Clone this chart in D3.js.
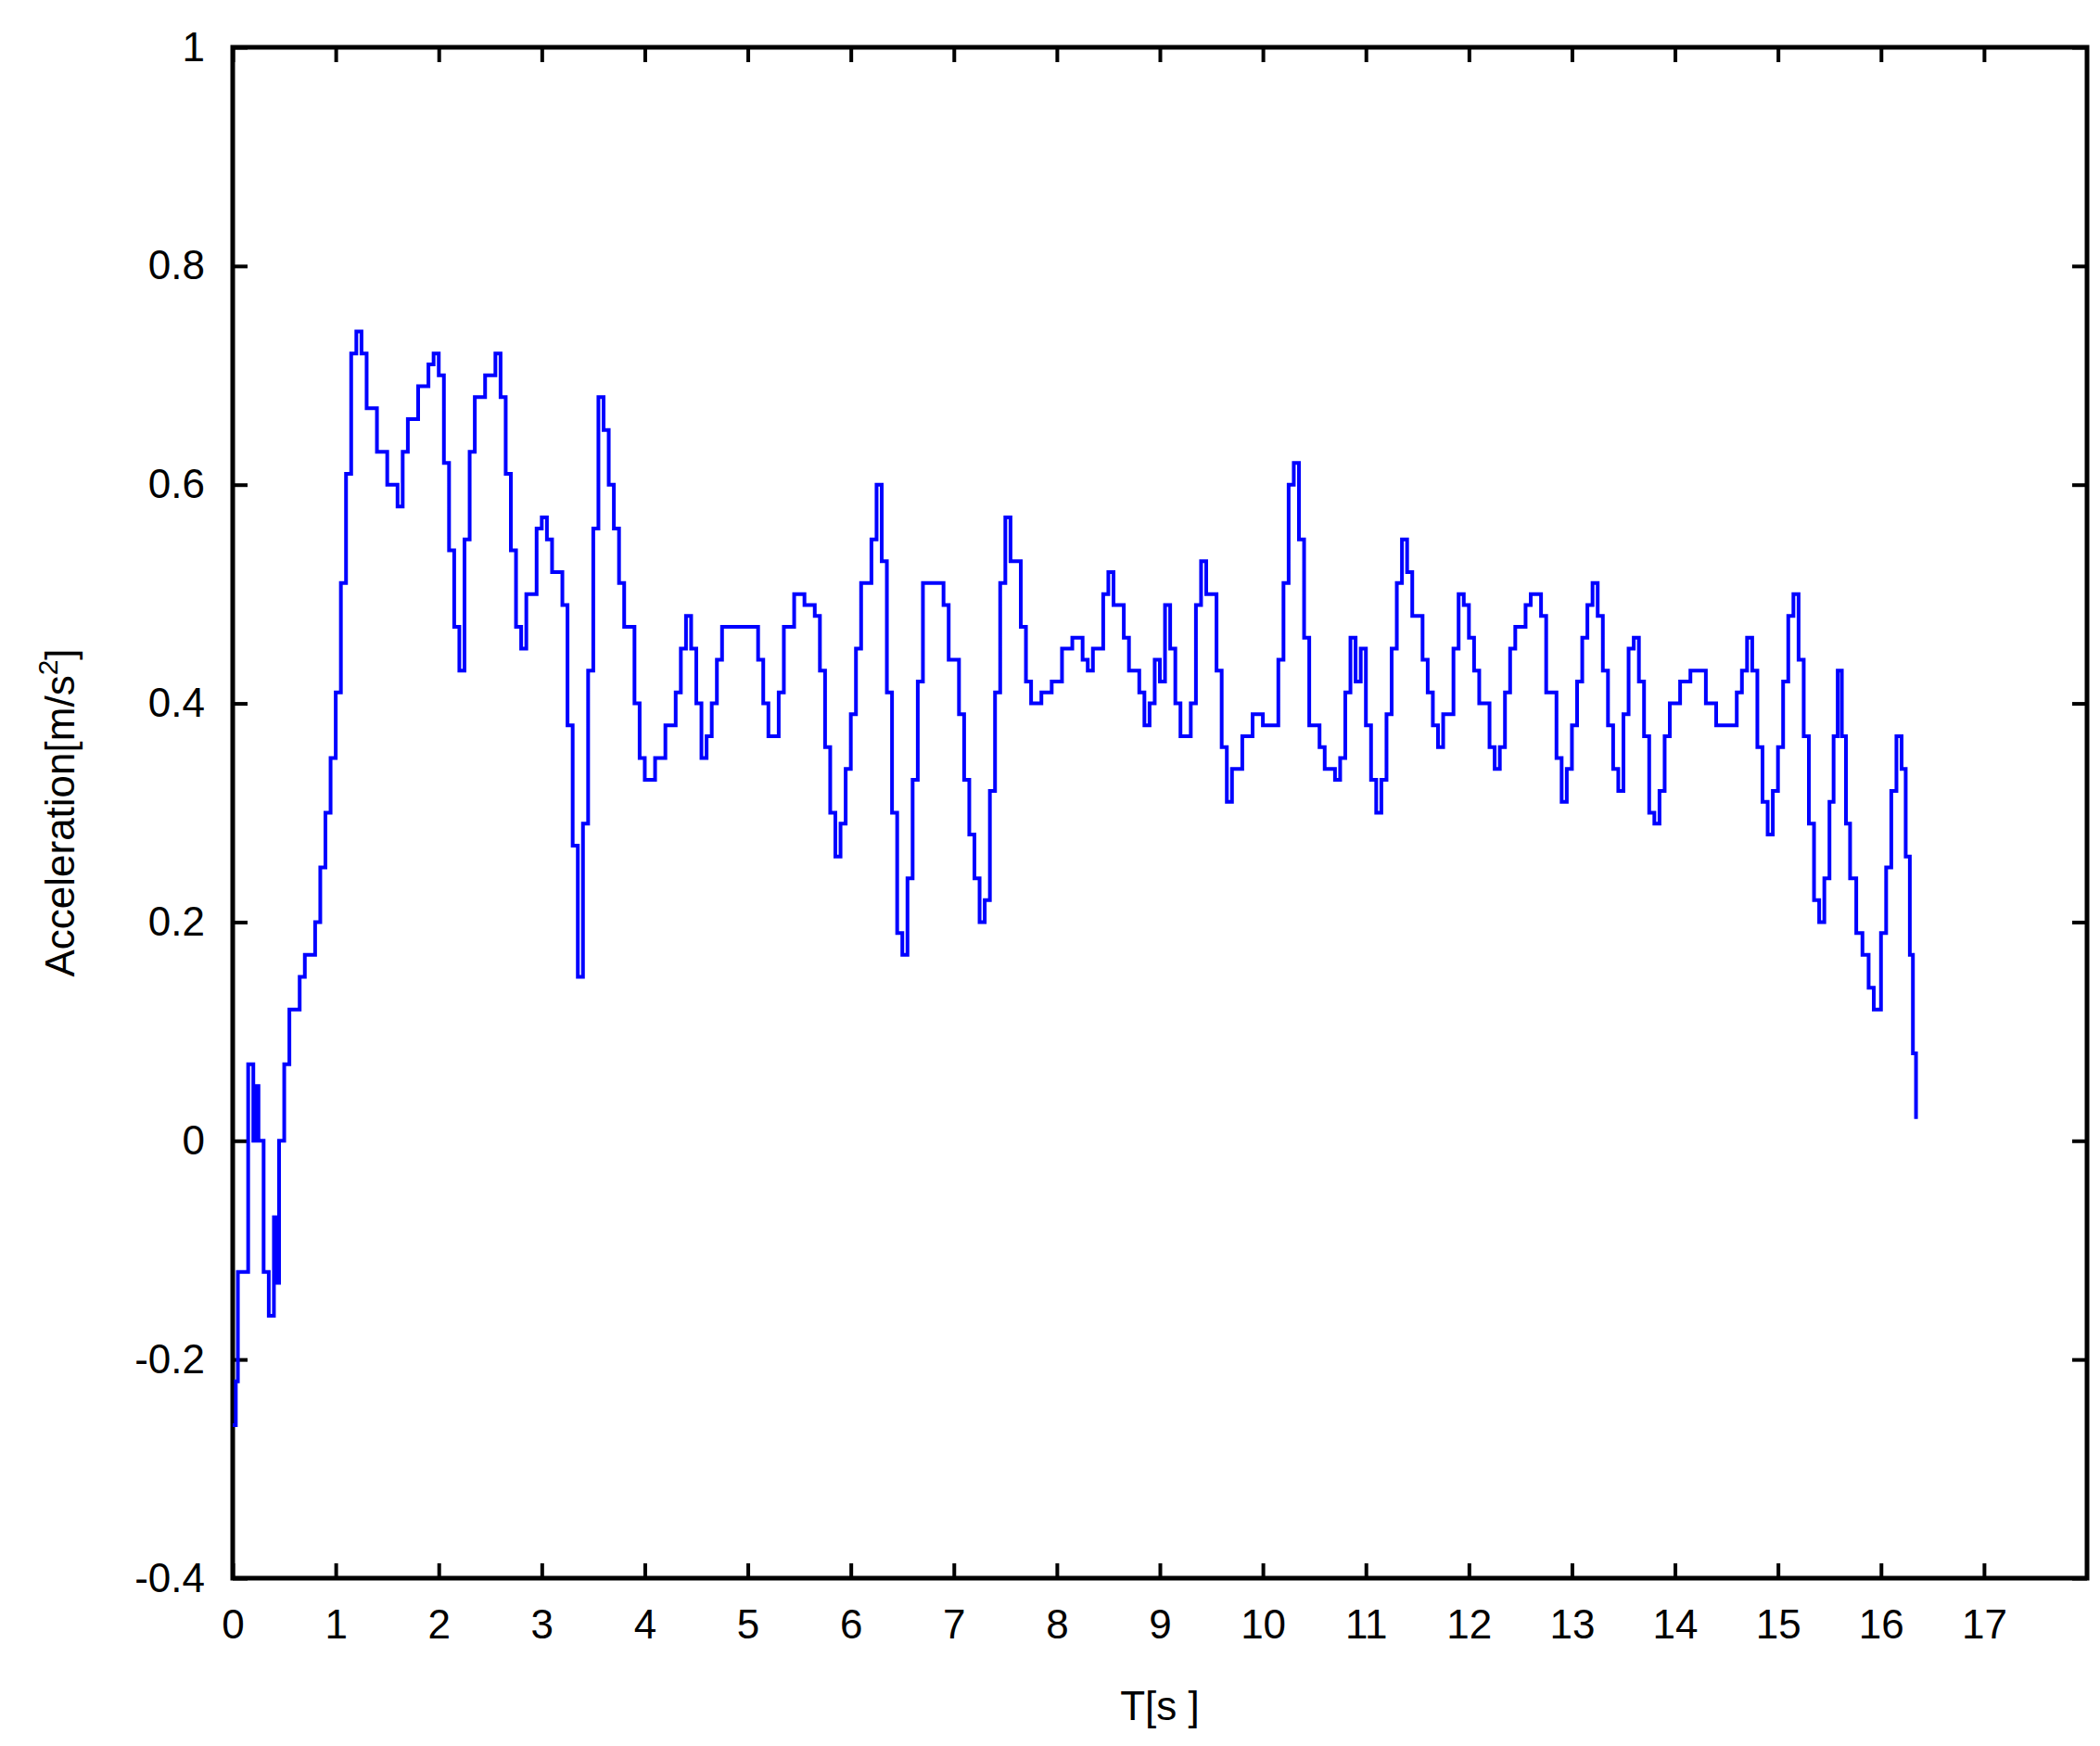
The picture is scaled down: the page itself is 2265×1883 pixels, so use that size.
<!DOCTYPE html>
<html><head><meta charset="utf-8">
<script src="https://cdn.jsdelivr.net/npm/d3@7"></script>
<style>body{margin:0;background:#fff}text{font-family:"Liberation Sans",Arial,sans-serif}</style>
</head><body>
<script>
var w = 2265, h = 1883;
var margin = {left: 251, right: 14, top: 51, bottom: 181};
var xTicks = d3.range(0, 18);
var yTicks = [-0.4, -0.2, 0, 0.2, 0.4, 0.6, 0.8, 1];
var times = [0,0.03,0.05,0.1,0.15,0.2,0.22,0.25,0.3,0.35,0.4,0.42,0.45,0.5,0.55,0.65,0.7,0.8,0.85,0.9,0.95,1.0,1.05,1.1,1.15,1.2,1.25,1.3,1.4,1.5,1.6,1.65,1.7,1.8,1.9,1.95,2.0,2.05,2.1,2.15,2.2,2.25,2.3,2.35,2.45,2.55,2.6,2.65,2.7,2.75,2.8,2.85,2.95,3.0,3.05,3.1,3.2,3.25,3.3,3.35,3.4,3.45,3.5,3.55,3.6,3.65,3.7,3.75,3.8,3.9,3.95,4.0,4.1,4.2,4.3,4.35,4.4,4.45,4.5,4.55,4.6,4.65,4.7,4.75,5.05,5.1,5.15,5.2,5.3,5.35,5.45,5.55,5.65,5.7,5.75,5.8,5.85,5.9,5.95,6.0,6.05,6.1,6.2,6.25,6.3,6.35,6.4,6.45,6.5,6.55,6.6,6.65,6.7,6.8,6.9,6.95,7.05,7.1,7.15,7.2,7.25,7.3,7.35,7.4,7.45,7.5,7.55,7.65,7.7,7.75,7.85,7.95,8.05,8.15,8.25,8.3,8.35,8.45,8.5,8.55,8.65,8.7,8.8,8.85,8.9,8.95,9.0,9.05,9.1,9.15,9.2,9.3,9.35,9.4,9.45,9.55,9.6,9.65,9.7,9.8,9.9,10.0,10.1,10.15,10.2,10.25,10.3,10.35,10.4,10.45,10.55,10.6,10.7,10.75,10.8,10.85,10.9,10.95,11.0,11.05,11.1,11.15,11.2,11.25,11.3,11.35,11.4,11.45,11.55,11.6,11.65,11.7,11.75,11.85,11.9,11.95,12.0,12.05,12.1,12.2,12.25,12.3,12.35,12.4,12.45,12.55,12.6,12.7,12.75,12.85,12.9,12.95,13.0,13.05,13.1,13.15,13.2,13.25,13.3,13.35,13.4,13.45,13.5,13.55,13.6,13.65,13.7,13.75,13.8,13.85,13.9,13.95,14.05,14.15,14.25,14.3,14.4,14.55,14.6,14.65,14.7,14.75,14.8,14.85,14.9,14.95,15.0,15.05,15.1,15.15,15.2,15.25,15.3,15.35,15.4,15.45,15.5,15.54,15.58,15.62,15.66,15.7,15.76,15.82,15.88,15.93,16.0,16.05,16.1,16.15,16.2,16.24,16.28,16.31,16.34];
var accel = [-0.26,-0.22,-0.12,-0.12,0.07,0.0,0.05,0,-0.12,-0.16,-0.07,-0.13,0,0.07,0.12,0.15,0.17,0.2,0.25,0.3,0.35,0.41,0.51,0.61,0.72,0.74,0.72,0.67,0.63,0.6,0.58,0.63,0.66,0.69,0.71,0.72,0.7,0.62,0.54,0.47,0.43,0.55,0.63,0.68,0.7,0.72,0.68,0.61,0.54,0.47,0.45,0.5,0.56,0.57,0.55,0.52,0.49,0.38,0.27,0.15,0.29,0.43,0.56,0.68,0.65,0.6,0.56,0.51,0.47,0.4,0.35,0.33,0.35,0.38,0.41,0.45,0.48,0.45,0.4,0.35,0.37,0.4,0.44,0.47,0.47,0.44,0.4,0.37,0.41,0.47,0.5,0.49,0.48,0.43,0.36,0.3,0.26,0.29,0.34,0.39,0.45,0.51,0.55,0.6,0.53,0.41,0.3,0.19,0.17,0.24,0.33,0.42,0.51,0.51,0.49,0.44,0.39,0.33,0.28,0.24,0.2,0.22,0.32,0.41,0.51,0.57,0.53,0.47,0.42,0.4,0.41,0.42,0.45,0.46,0.44,0.43,0.45,0.5,0.52,0.49,0.46,0.43,0.41,0.38,0.4,0.44,0.42,0.49,0.45,0.4,0.37,0.4,0.49,0.53,0.5,0.43,0.36,0.31,0.34,0.37,0.39,0.38,0.38,0.44,0.51,0.6,0.62,0.55,0.46,0.38,0.36,0.34,0.33,0.35,0.41,0.46,0.42,0.45,0.38,0.33,0.3,0.33,0.39,0.45,0.51,0.55,0.52,0.48,0.44,0.41,0.38,0.36,0.39,0.45,0.5,0.49,0.46,0.43,0.4,0.36,0.34,0.36,0.41,0.45,0.47,0.49,0.5,0.48,0.41,0.35,0.31,0.34,0.38,0.42,0.46,0.49,0.51,0.48,0.43,0.38,0.34,0.32,0.39,0.45,0.46,0.42,0.37,0.3,0.29,0.32,0.37,0.4,0.42,0.43,0.43,0.4,0.38,0.38,0.41,0.43,0.46,0.43,0.36,0.31,0.28,0.32,0.36,0.42,0.48,0.5,0.44,0.37,0.29,0.22,0.2,0.24,0.31,0.37,0.43,0.37,0.29,0.24,0.19,0.17,0.14,0.12,0.19,0.25,0.32,0.37,0.34,0.26,0.17,0.08,0.02];

var svg = d3.select("body").append("svg").attr("width", w).attr("height", h);
var x = d3.scaleLinear().domain([0, 18]).range([margin.left, w - margin.right]);
var y = d3.scaleLinear().domain([-0.4, 1]).range([h - margin.bottom, margin.top]);
var tl = 16;

// inward ticks on all four sides
svg.append("g").attr("transform", "translate(0," + y(-0.4) + ")")
   .call(d3.axisBottom(x).tickValues(xTicks).tickSizeInner(-tl).tickSizeOuter(0).tickPadding(tl + 18).tickFormat(d3.format("d")));
svg.append("g").attr("transform", "translate(0," + y(1) + ")")
   .call(d3.axisTop(x).tickValues(xTicks).tickSizeInner(-tl).tickSizeOuter(0).tickFormat(""));
svg.append("g").attr("transform", "translate(" + x(0) + ",0)")
   .call(d3.axisLeft(y).tickValues(yTicks).tickSizeInner(-tl).tickSizeOuter(0).tickPadding(tl + 14).tickFormat(function(d){ return String(d); }));
svg.append("g").attr("transform", "translate(" + x(18) + ",0)")
   .call(d3.axisRight(y).tickValues(yTicks).tickSizeInner(-tl).tickSizeOuter(0).tickFormat(""));
svg.selectAll(".tick line").attr("stroke", "#000").attr("stroke-width", 4);
svg.selectAll(".domain").attr("stroke", "none");
svg.selectAll(".tick text").attr("font-size", 44).attr("fill", "#000").style("font-family", "Liberation Sans, Arial, sans-serif");

svg.append("rect").attr("x", x(0)).attr("y", y(1)).attr("width", x(18) - x(0)).attr("height", y(-0.4) - y(1))
   .attr("fill", "none").attr("stroke", "#000").attr("stroke-width", 5);

var pts = times.map(function(t, i){ return [t, accel[i]]; });
svg.append("path").datum(pts)
   .attr("d", d3.line().x(function(d){ return x(d[0]); }).y(function(d){ return y(d[1]); }).curve(d3.curveStepAfter))
   .attr("fill", "none").attr("stroke", "#0000ff").attr("stroke-width", 4);

svg.append("text").attr("x", x(9)).attr("y", 1855).attr("text-anchor", "middle").attr("font-size", 44).text("T[s ]");
svg.append("text").attr("transform", "translate(80," + y(0.3) + ") rotate(-90)").attr("text-anchor", "middle").attr("font-size", 44)
   .html('Acceleration[m/s<tspan dy="-18" font-size="30">2</tspan><tspan dy="18">]</tspan>');
</script>
</body></html>
